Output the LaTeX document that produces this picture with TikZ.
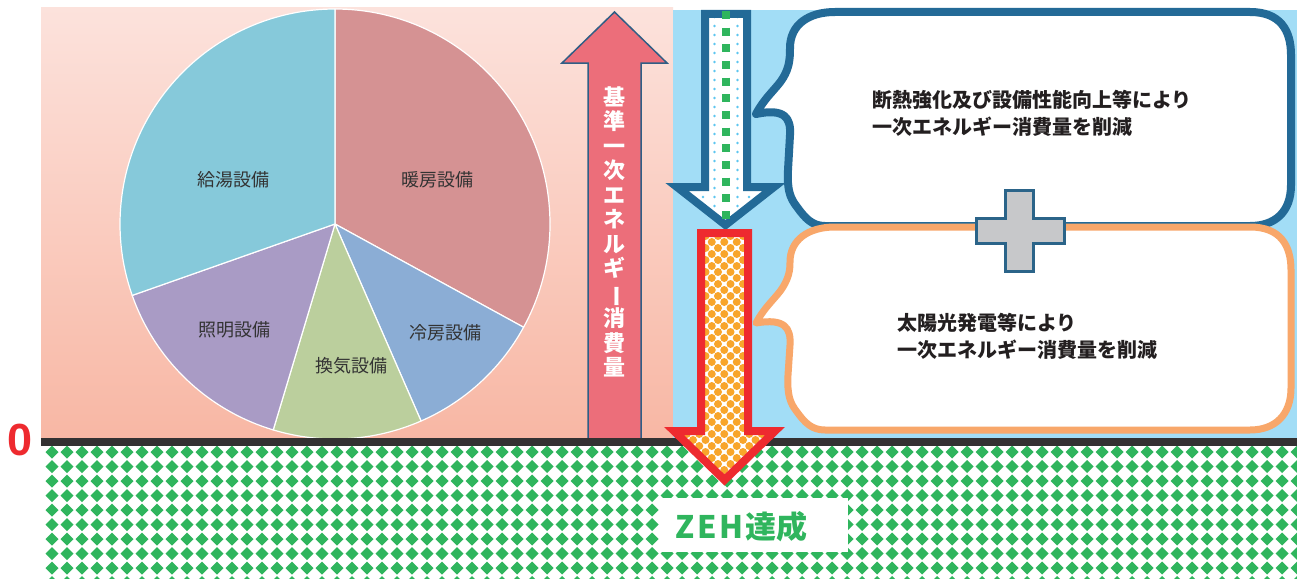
\documentclass[tikz,border=0pt]{standalone}
\usepackage{fontspec}
\newfontfamily\jp{Noto Sans CJK JP}
\newfontfamily\lib{Liberation Sans}
\definecolor{pinkTop}{HTML}{FCE2DC}
\definecolor{pinkBot}{HTML}{F8B7A4}
\definecolor{bluePanel}{HTML}{A2DDF6}
\definecolor{cDan}{HTML}{D59293}
\definecolor{cRei}{HTML}{8BADD5}
\definecolor{cKan}{HTML}{BBCF9D}
\definecolor{cSho}{HTML}{A99BC5}
\definecolor{cKyu}{HTML}{86C9DA}
\definecolor{pinkArrow}{HTML}{EC6E7A}
\definecolor{arrowEdge}{HTML}{2F5E85}
\definecolor{darkBlue}{HTML}{236A97}
\definecolor{orangeLine}{HTML}{F8A76A}
\definecolor{redArrow}{HTML}{EE2A2F}
\definecolor{orangeDot}{HTML}{F8A52B}
\definecolor{zehGreen}{HTML}{2FB55D}
\definecolor{dotBlue}{HTML}{5CC6F0}
\definecolor{plusFill}{HTML}{C7C8CA}
\definecolor{plusEdge}{HTML}{2B6489}
\definecolor{blackLine}{HTML}{333132}
\definecolor{txtGray}{HTML}{333333}
\definecolor{txtBlack}{HTML}{231F20}
\begin{document}
\begin{tikzpicture}[x=1pt,y=-1pt,
  slice/.style={draw=white, line width=1.2pt, line join=round},
  pielab/.style={font=\jp\fontsize{18}{20}\selectfont, text=txtGray, inner sep=0pt},
  calltxt/.style={font=\jp\bfseries\fontsize{20}{27}\selectfont, text=txtBlack, align=left, inner sep=0pt, anchor=west},
  vtext/.style={font=\jp\bfseries\fontsize{22}{24.5}\selectfont, text=white, align=center, inner sep=0pt},
  bluecall/.style={draw=darkBlue, fill=white, line width=8pt, line join=round},
  orangecall/.style={draw=orangeLine, fill=white, line width=7pt, line join=round},
  plussign/.style={fill=plusFill, draw=plusEdge, line width=3pt, line join=miter},
]
\useasboundingbox (0,0) rectangle (1297,578);
\fill[white] (0,0) rectangle (1297,578);
% panels
\shade[top color=pinkTop, bottom color=pinkBot] (41,8) rectangle (673,440);
\fill[bluePanel] (673,10) rectangle (1297,440);
% pie chart
\begin{scope}[shift={(335,224)}]
\filldraw[slice, fill=cDan] (0,0) -- (-90:215) arc[start angle=-90, end angle=28.7, radius=215] -- cycle;
\filldraw[slice, fill=cRei] (0,0) -- (28.7:215) arc[start angle=28.7, end angle=66.4, radius=215] -- cycle;
\filldraw[slice, fill=cKan] (0,0) -- (66.4:215) arc[start angle=66.4, end angle=106.7, radius=215] -- cycle;
\filldraw[slice, fill=cSho] (0,0) -- (106.7:215) arc[start angle=106.7, end angle=160.6, radius=215] -- cycle;
\filldraw[slice, fill=cKyu] (0,0) -- (160.6:215) arc[start angle=160.6, end angle=270, radius=215] -- cycle;
\end{scope}
\node[pielab] (kyu) at (233,180) {給湯設備};
\node[pielab] (dan) at (437,180) {暖房設備};
\node[pielab] (sho) at (234,330) {照明設備};
\node[pielab] (rei) at (445,333) {冷房設備};
\node[pielab] (kan) at (351,366) {換気設備};
% pink up arrow
\draw[fill=pinkArrow, draw=arrowEdge, line width=1.5pt, line join=miter] (588,440) -- (588,63) -- (562,63) -- (614.5,12) -- (667,63) -- (641,63) -- (641,440) -- cycle;
\node[vtext] (vt) at (614,232) {基\\準\\一\\次\\エ\\ネ\\ル\\ギ\\\rotatebox[origin=c]{-90}{ー}\\消\\費\\量};
% blue callout
\draw[bluecall] (835,12) -- (1250,12) .. controls (1280,12) and (1291,30) .. (1291,55) -- (1291,185) .. controls (1291,212) and (1275,226) .. (1250,226) -- (825,226) .. controls (812,226) and (805,218) .. (797,207) .. controls (790,198) and (787,190) .. (788,170) -- (790,135) .. controls (791,118) and (785,108) .. (756,114) .. controls (765,97) and (777,88) .. (783,78) .. controls (789,68) and (790,60) .. (790,48) .. controls (790,25) and (808,12) .. (835,12) -- cycle;
% orange callout
\draw[orangecall] (835,227) -- (1250,227) .. controls (1280,227) and (1291,245) .. (1291,270) -- (1291,388) .. controls (1291,415) and (1275,430) .. (1250,430) -- (825,430) .. controls (812,430) and (805,423) .. (797,412) .. controls (790,403) and (787,395) .. (788,375) -- (790,345) .. controls (791,328) and (785,318) .. (756,323) .. controls (765,306) and (777,297) .. (783,287) .. controls (789,277) and (790,270) .. (790,262) .. controls (790,240) and (808,227) .. (835,227) -- cycle;
\node[calltxt] (t1) at (872,113.5) {断熱強化及び設備性能向上等により\\一次エネルギー消費量を削減};
\node[calltxt] (t2) at (897,336) {太陽光発電等により\\一次エネルギー消費量を削減};
% plus
\draw[plussign] (1005,190) -- (1033,190) -- (1033,218) -- (1064,218) -- (1064,243) -- (1033,243) -- (1033,271) -- (1005,271) -- (1005,243) -- (976,243) -- (976,218) -- (1005,218) -- cycle;
% blue down arrow
\fill[white] (705,14) -- (747,14) -- (747,187) -- (774,187) -- (725.5,225) -- (677,187) -- (705,187) -- cycle;
\begin{scope}
\clip (705,14) -- (747,14) -- (747,187) -- (774,187) -- (725.5,225) -- (677,187) -- (705,187) -- cycle;
\foreach \i in {-4,-3,-2,-1,1,2,3,4} {
  \foreach \j in {0,...,24} {
    \fill[dotBlue] ({726+11.5*\i},{17+9*\j}) circle (1.3);
  }
}
\end{scope}
\draw[darkBlue, line width=8pt, line join=miter] (705,14) -- (747,14) -- (747,187) -- (774,187) -- (725.5,225) -- (677,187) -- (705,187) -- cycle;
\draw[zehGreen, line width=8pt, dash pattern=on 8pt off 8.67pt] (726,11) -- (726,219);
% green ZEH pattern
\begin{scope}
\clip (41,446) rectangle (1297,578);
\foreach \j in {0,...,9} {
  \foreach \i in {0,...,83} {
    \fill[zehGreen] ({52+15*\i-6.5},{452+14.5*\j}) -- ++(6.5,-6.5) -- ++(6.5,6.5) -- ++(-6.5,6.5) -- cycle;
  }
}
\end{scope}
% black zero line
\draw[blackLine, line width=8pt] (41,442) -- (1297,442);
% red down arrow
\begin{scope}
\clip (701,233) -- (748,233) -- (748,431) -- (775,431) -- (724.5,480) -- (674,431) -- (701,431) -- cycle;
\fill[white] (660,225) rectangle (790,490);
\foreach \j in {0,...,42} {
  \foreach \i in {0,...,9} {
    \fill[orangeDot] ({668+12.5*\i+6.25*mod(\j,2)},{236+6*\j}) circle (4);
  }
}
\end{scope}
\draw[redArrow, line width=8pt, line join=miter] (701,233) -- (748,233) -- (748,431) -- (775,431) -- (724.5,480) -- (674,431) -- (701,431) -- cycle;
% ZEH label
\node[fill=white, minimum width=188pt, minimum height=54pt, inner sep=0pt] (zehbox) at (754,525) {};
\node[anchor=west, inner sep=0pt, text=zehGreen, font=\jp\bfseries\fontsize{31}{34}\selectfont] (zehtxt) at (675,527) {Z\kern3pt E\kern3pt H\kern2pt 達成};
% zero label
\node[text=redArrow, font=\lib\bfseries\fontsize{45}{45}\selectfont, inner sep=0pt] (zero) at (20,440) {0};
\end{tikzpicture}
\end{document}
